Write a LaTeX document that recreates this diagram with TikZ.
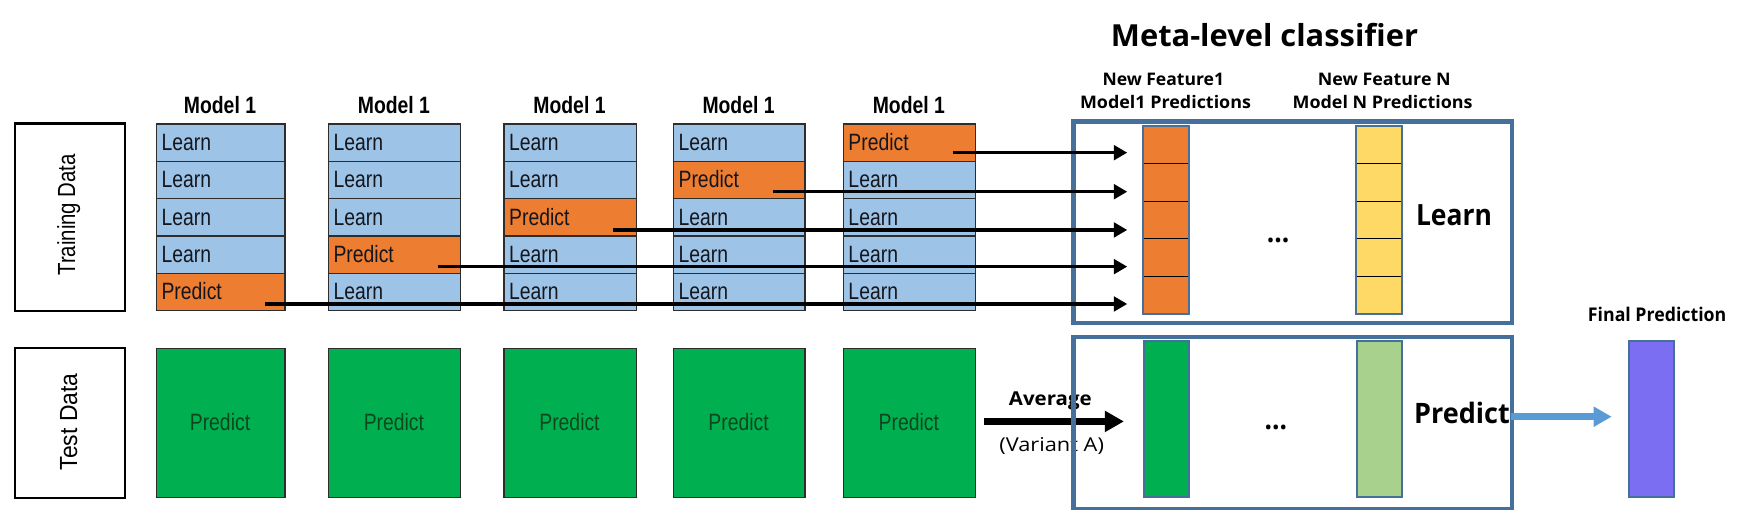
\documentclass[tikz,border=0pt]{standalone}
\usepackage{fontspec}
\usepackage{graphicx}
\setmainfont{Liberation Sans}
\newfontfamily\kor{Open Sans}
\usetikzlibrary{arrows.meta}
\definecolor{learnblue}{RGB}{157,195,230}
\definecolor{predorange}{RGB}{237,125,49}
\definecolor{blkline}{RGB}{45,45,45}
\definecolor{testgreen}{RGB}{0,176,80}
\definecolor{lightgreen}{RGB}{169,209,142}
\definecolor{featyellow}{RGB}{255,217,102}
\definecolor{finalpurple}{RGB}{123,110,242}
\definecolor{metablue}{RGB}{69,112,156}
\definecolor{arrowblue}{RGB}{91,155,213}
\definecolor{txtdark}{RGB}{20,22,30}
\definecolor{txtgreen}{RGB}{15,70,30}
\newcommand\nar[1]{\scalebox{0.82}[1]{#1}}
\newcommand\fitw[2]{\resizebox{#1pt}{\height}{#2}}
\begin{document}
\begin{tikzpicture}[x=1pt,y=-1pt,
  blk/.style={draw=blkline, line width=1.1pt, inner sep=0pt, anchor=north west, minimum height=33.2pt},
  blktext/.style={anchor=base west, inner sep=0pt, text=txtdark, font=\fontsize{21}{24}\selectfont},
  model/.style={anchor=base, inner sep=0pt, font=\fontsize{21}{24}\selectfont\bfseries},
  databox/.style={draw=black, line width=2.2pt, anchor=north west, inner sep=0pt, minimum width=98pt},
  datatext/.style={rotate=90, inner sep=0pt, font=\fontsize{22}{24}\selectfont},
  testbox/.style={draw=blkline, line width=1.1pt, fill=testgreen, anchor=north west, inner sep=0pt, minimum height=132.5pt},
  testtext/.style={anchor=base, inner sep=0pt, text=txtgreen, font=\fontsize{21}{24}\selectfont},
  metabox/.style={draw=metablue, line width=4pt, anchor=north west, inner sep=0pt, minimum width=390pt},
  cell/.style={anchor=north west, inner sep=0pt, minimum width=40pt, minimum height=33.36pt, draw=black, line width=0.8pt},
  colbar/.style={draw=metablue, line width=1.8pt, anchor=north west, inner sep=0pt, minimum width=40pt, minimum height=139pt},
  kortext/.style={anchor=base, inner sep=0pt},
  feedarrow/.style={draw=black, line width=3.1pt, -{Triangle[length=12pt,width=13pt]}},
]
\fill[white] (0,0) rectangle (1568,453);
\path[use as bounding box] (0,0) rectangle (1568,453);

% data boxes
\node[databox, minimum height=167pt] (train) at (12,108.5) {};
\node[datatext] (traintxt) at (61,191) {\fitw{108}{Training Data}};
\node[databox, minimum height=133.5pt] (test) at (12,308) {};
\node[datatext] (testtxt) at (61,375) {\fitw{86}{Test Data}};

% model columns
\foreach \ci/\xl/\w in {1/138.4/114.3,2/291.3/117.7,3/447.4/117.6,4/598/117,5/749/117.7}{
  \node[model] (m\ci) at ({\xl+\w/2},101.3) {\nar{Model 1}};
  \foreach \ri in {1,...,5}{
    \pgfmathsetmacro\yt{109.6+33.2*(\ri-1)}
    \ifnum\numexpr\ci+\ri\relax=6
      \node[blk, fill=predorange, minimum width=\w pt] (b\ci\ri) at (\xl,\yt) {};
      \node[blktext] (bt\ci\ri) at ({\xl+5},{\yt+24.1}) {\nar{Predict}};
    \else
      \node[blk, fill=learnblue, minimum width=\w pt] (b\ci\ri) at (\xl,\yt) {};
      \node[blktext] (bt\ci\ri) at ({\xl+5},{\yt+24.1}) {\nar{Learn}};
    \fi
  }
  \node[testbox, minimum width=\w pt] (g\ci) at (\xl,309) {};
  \node[testtext] (gt\ci) at ({\xl+\w/2},382.6) {\nar{Predict}};
}

% average arrow
\coordinate (avgS) at (874.7,374.6);
\coordinate (avgT) at (999,374.6);
\draw[line width=6pt, -{Triangle[length=17pt,width=18pt]}] (avgS) -- (avgT);
\node[kortext, font=\kor\bfseries\fontsize{17}{20}\selectfont] (avg) at (933.6,360) {\fitw{73.5}{Average}};
\node[kortext, font=\kor\fontsize{17}{20}\selectfont] (var) at (934.8,401.5) {\fitw{93}{(Variant A)}};

% meta boxes
\node[metabox, minimum height=179pt] (ml) at (952,106) {};
\node[metabox, minimum height=153pt] (mp) at (952,297.5) {};

% feature columns
\foreach \i in {1,...,5}{
  \pgfmathsetmacro\yt{111.7+33.36*(\i-1)}
  \node[cell, fill=predorange] (o\i) at (1016,\yt) {};
  \node[cell, fill=featyellow] (y\i) at (1205,\yt) {};
}
\draw[metablue, line width=1.8pt] (o1.north west) rectangle (o5.south east);
\draw[metablue, line width=1.8pt] (y1.north west) rectangle (y5.south east);
\node[colbar, fill=testgreen] (dg) at (1016,302) {};
\node[colbar, fill=lightgreen] (lg) at (1205,302) {};
\node[colbar, fill=finalpurple] (fp) at (1447,302) {};

% feed arrows
\coordinate (s1) at (847,135.7);   \coordinate (t1) at (1002,135.7);
\coordinate (s2) at (687,170.4);   \coordinate (t2) at (1002,170.4);
\coordinate (s3) at (545,204.4);   \coordinate (t3) at (1002,204.4);
\coordinate (s4) at (389,237);     \coordinate (t4) at (1002,237);
\coordinate (s5) at (235.6,270.2); \coordinate (t5) at (1002,270.2);
\foreach \k in {1,...,5}{\draw[feedarrow] (s\k) -- (t\k);}

% final arrow
\coordinate (fS) at (1343,370.4);
\coordinate (fT) at (1432.6,370.4);
\draw[arrowblue, line width=6pt, -{Triangle[length=16pt,width=17pt]}] (fS) -- (fT);

% meta texts
\node[kortext, font=\kor\bfseries\fontsize{27}{30}\selectfont] (title) at (1124,41.5) {\fitw{273}{Meta-level classifier}};
\node[kortext, font=\kor\bfseries\fontsize{15.4}{18}\selectfont] (nf1a) at (1034,75.6) {\fitw{108}{New Feature1}};
\node[kortext, font=\kor\bfseries\fontsize{15.4}{18}\selectfont] (nf1b) at (1036,96.3) {\fitw{152}{Model1 Predictions}};
\node[kortext, font=\kor\bfseries\fontsize{15.4}{18}\selectfont] (nfna) at (1230.5,75.6) {\fitw{118}{New Feature N}};
\node[kortext, font=\kor\bfseries\fontsize{15.4}{18}\selectfont] (nfnb) at (1229,96.3) {\fitw{160}{Model N Predictions}};
\node[kortext, font=\kor\bfseries\fontsize{26}{30}\selectfont] (learnbig) at (1292.4,200.6) {\fitw{67.5}{Learn}};
\node[kortext, font=\kor\bfseries\fontsize{25}{30}\selectfont] (predbig) at (1299.5,376) {\fitw{85}{Predict}};
\node[kortext, font=\kor\bfseries\fontsize{26}{30}\selectfont] (dots1) at (1136,215.5) {\fitw{20}{...}};
\node[kortext, font=\kor\bfseries\fontsize{26}{30}\selectfont] (dots2) at (1134,381.5) {\fitw{20}{...}};
\node[kortext, font=\kor\bfseries\fontsize{16.8}{20}\selectfont] (finaltxt) at (1473,286) {\fitw{123}{Final Prediction}};
\end{tikzpicture}
\end{document}
